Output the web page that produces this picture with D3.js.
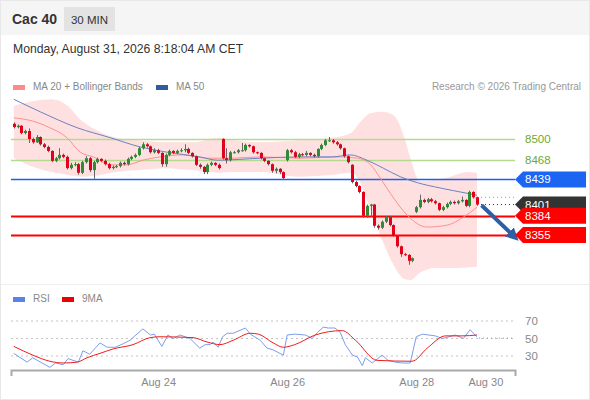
<!DOCTYPE html>
<html>
<head>
<meta charset="utf-8">
<script src="https://cdn.jsdelivr.net/npm/d3@7"></script>
<style>
  body { margin: 0; background: #fff; }
  svg { font-family: "Liberation Sans", Arial, sans-serif; display: block; }
</style>
</head>
<body>
<div id="chart"></div>
<script>
// 30 min candles, Cac 40
const open = [8523,8518,8520,8509,8512,8500,8495,8503,8492,8488,
  8482,8467,8471,8476,8473,8456,8461,8462,8449,8465,
  8471,8453,8465,8470,8467,8462,8456,8458,8459,8464,
  8462,8470,8473,8476,8486,8492,8489,8480,8483,8479,
  8462,8476,8482,8479,8482,8483,8485,8479,8474,8461,
  8458,8450,8461,8464,8461,8500,8471,8468,8480,8480,
  8483,8483,8491,8489,8480,8479,8471,8467,8462,8452,
  8455,8450,8468,8483,8480,8473,8477,8476,8479,8476,
  8474,8485,8491,8498,8498,8495,8492,8486,8474,8461,
  8435,8429,8420,8384,8399,8401,8369,8366,8375,8382,
  8370,8354,8338,8326,8325,8316,8390,8397,8408,8405,
  8409,8406,8403,8393,8397,8402,8405,8403,8406,8408,
  8399,8420,8412];
const close = [8518,8520,8509,8512,8500,8495,8503,8492,8488,8482,
  8467,8471,8476,8473,8456,8461,8462,8449,8465,8471,
  8453,8465,8470,8467,8462,8456,8458,8459,8464,8462,
  8470,8473,8476,8486,8492,8489,8480,8483,8479,8462,
  8476,8482,8479,8482,8483,8485,8479,8474,8461,8458,
  8450,8461,8464,8461,8456,8471,8468,8480,8480,8483,
  8483,8491,8489,8480,8479,8471,8467,8462,8452,8455,
  8450,8441,8483,8480,8473,8477,8476,8479,8476,8474,
  8485,8491,8498,8498,8495,8492,8486,8474,8465,8435,
  8429,8420,8384,8399,8401,8369,8366,8375,8382,8370,
  8354,8338,8326,8325,8316,8320,8397,8408,8405,8409,
  8406,8403,8393,8397,8402,8405,8403,8406,8408,8399,
  8420,8412,8401];
const high = [8525,8522,8521,8514,8516,8502,8506,8504,8494,8490,
  8483,8473,8486,8478,8475,8464,8465,8464,8467,8474,
  8473,8467,8472,8471,8469,8464,8460,8461,8466,8466,
  8472,8475,8478,8488,8495,8494,8490,8486,8485,8480,
  8478,8484,8483,8484,8486,8492,8487,8480,8475,8463,
  8459,8463,8466,8465,8463,8501,8486,8482,8482,8485,
  8494,8493,8492,8490,8481,8480,8472,8468,8463,8457,
  8456,8451,8485,8485,8482,8479,8479,8482,8480,8478,
  8486,8493,8500,8503,8500,8497,8493,8487,8475,8462,
  8437,8430,8421,8401,8402,8402,8371,8377,8384,8384,
  8371,8355,8339,8328,8326,8321,8399,8416,8410,8411,
  8411,8408,8404,8399,8404,8407,8407,8408,8413,8409,
  8422,8421,8413];
const low = [8516,8516,8507,8507,8494,8493,8494,8490,8486,8480,
  8465,8465,8469,8471,8454,8454,8459,8446,8447,8463,
  8450,8440,8463,8465,8460,8454,8454,8456,8457,8460,
  8460,8468,8471,8474,8484,8487,8478,8478,8477,8458,
  8458,8474,8477,8477,8480,8480,8477,8472,8459,8455,
  8447,8447,8459,8459,8454,8469,8463,8466,8478,8478,
  8481,8481,8487,8478,8477,8469,8465,8460,8449,8448,
  8447,8439,8466,8478,8471,8471,8474,8474,8474,8472,
  8472,8483,8489,8496,8493,8490,8484,8472,8463,8433,
  8427,8418,8381,8381,8382,8366,8363,8364,8373,8368,
  8352,8336,8322,8323,8310,8314,8388,8395,8403,8403,
  8404,8401,8391,8391,8395,8400,8401,8401,8404,8397,
  8397,8410,8399];

// indicators (candle index -> value)
const ma20Idx = [0,5,9.5,14,17.5,20.9,25.4,29.8,34,38.5,44.6,50.9,57.8,64.9,75.4,86,90.5,94,96.5,100,103.6,108.9,114.2,118.4,122];
const ma20 = [8532,8527,8517,8502,8480,8473,8461,8461,8468,8473,8476,8471,8471,8473,8471,8473,8471,8461,8441,8411,8385,8367,8370,8382,8397];
const ma50Idx = [0,7,16.7,25.4,33.3,40.4,49,53.6,65,75.4,84,88.6,93,97.3,101.8,106.3,112.3,119.4,122];
const ma50 = [8560,8541,8517,8502,8488,8480,8473,8468,8471,8473,8473,8476,8468,8456,8443,8434,8426,8418,8415];
const bandIdx = [0,5,10,14,18,23,27,33,40,47,54,58,65,75,84,89,91,94,97,100,103,104.5,107,111,115,119.5,122];
const bandUpper = [8550,8557,8560,8551,8527,8510,8502,8498,8495,8495,8502,8498,8495,8498,8502,8510,8524,8539,8541,8536,8500,8470,8436,8438,8443,8450,8449];
const bandLower = [8471,8458,8450,8446,8443,8446,8450,8453,8456,8453,8449,8450,8450,8443,8446,8449,8437,8392,8348,8310,8288,8287,8298,8305,8305,8306,8307];

// levels
const levels = [8500, 8468, 8439, 8384, 8355];
const levelKind = ["res", "res", "pivot", "sup", "sup"];
const lastPrice = 8401;
const ma50Last = 8412;
const forecastIdx = [123.2, 131];
const forecastPrice = [8400, 8357];

// RSI panel
const rsiIdx = [0,3.5,5,9.5,11,13,14.3,17,18.2,20,22.7,24.6,26.7,28.8,30.6,34,36,37,39,40.6,42,43.8,46.4,49,50.4,51.7,52.5,53.8,55,56.2,57.8,61,62.3,64.9,66.7,68.3,71,72,74,76.8,78.6,80,81.5,82.8,84.6,86,87.3,89.2,90.5,91.8,92.6,94.4,97,98.6,100.5,102.3,104.4,106,107.6,111,112.9,116.3,118.4,120.2,121.5,122];
const rsi = [33,23,28,17,22,20,27,23,36,32,45,40,40,44,48,61,54,55,41,54,50,54,50,39,43,43,46,40,52,56,56,62,55,48,39,37,31,54,55,54,50,57,63,62,62,57,43,31,29,19,28,22,31,25,23,22,22,52,55,53,50,54,50,60,54,52];
const ma9Idx = [0,5,9.5,13,16.7,19.3,22.7,26.1,31.4,35.9,38.5,47.2,50.9,54.3,57.8,62.3,64.4,68.3,71,74,79.4,86.5,90,95.7,104.9,108.9,113.7,118.1,122];
const ma9 = [41,31,24,22,23,28,33,38,43,51,52,51,46,43,48,56,55,45,40,43,54,59,48,25,24,39,53,53,54];
const rsiLevels = [70, 50, 30];
const rsiLast = 50.5;

const tickIdx = [38, 72, 106, 124.2];
const tickLabels = ["Aug 24", "Aug 26", "Aug 28", "Aug 30"];

const W = 590, H = 400;
const left = 11, right = 515;

const svg = d3.select("#chart").append("svg").attr("width", W).attr("height", H);

const x = d3.scaleLinear().domain([0, 122]).range([13.8, 477]);
const y = d3.scaleLinear().domain([8355, 8500]).range([235, 139]);
const ry = d3.scaleLinear().domain([30, 70]).range([356, 321]);

// frame + header
svg.append("rect").attr("x", 0.5).attr("y", 0.5).attr("width", W - 1).attr("height", H - 1)
  .attr("fill", "#fff").attr("stroke", "#e8e8e8");
svg.append("rect").attr("x", 1).attr("y", 1).attr("width", W - 2).attr("height", 34).attr("fill", "#f5f5f5");
svg.append("rect").attr("x", 64).attr("y", 7).attr("width", 51).attr("height", 24).attr("fill", "#e3e3e3");
svg.append("text").attr("x", 12).attr("y", 24).attr("font-size", 14).attr("font-weight", "bold")
  .attr("fill", "#333").text("Cac 40");
svg.append("text").attr("x", 89.5).attr("y", 23.5).attr("text-anchor", "middle").attr("font-size", 11.5)
  .attr("fill", "#333").text("30 MIN");
svg.append("text").attr("x", 13).attr("y", 52.5).attr("font-size", 12.2).attr("fill", "#333")
  .text("Monday, August 31, 2026 8:18:04 AM CET");

// legends
function legend(lx, ly, color, label) {
  svg.append("rect").attr("x", lx).attr("y", ly - 5).attr("width", 12).attr("height", 5).attr("fill", color);
  svg.append("text").attr("x", lx + 20).attr("y", ly).attr("font-size", 10).attr("fill", "#888").text(label);
}
legend(13, 90, "#ff8a8a", "MA 20 + Bollinger Bands");
legend(156, 90, "#2f5c9e", "MA 50");
svg.append("text").attr("x", 581).attr("y", 90).attr("text-anchor", "end").attr("font-size", 10)
  .attr("fill", "#999").text("Research \u00a9 2026 Trading Central");
legend(13, 302, "#5b82e6", "RSI");
legend(62, 302, "#ee0000", "9MA");

svg.append("line").attr("x1", 1).attr("x2", W - 1).attr("y1", 284.5).attr("y2", 284.5).attr("stroke", "#eeeeee");

// bollinger band
const band = d3.area()
  .x((d, i) => x(bandIdx[i]))
  .y0((d, i) => y(bandLower[i]))
  .y1(d => y(d))
  .curve(d3.curveMonotoneX);
svg.append("path").datum(bandUpper).attr("d", band).attr("fill", "#ffe0e0");

// level lines
const levelColor = { res: "#b5d98f", pivot: "#1c5fe8", sup: "#ff0000" };
const levelWidth = { res: 1.5, pivot: 1.5, sup: 2 };
svg.selectAll(".lvl").data(levels).enter().append("line")
  .attr("x1", left).attr("x2", right)
  .attr("y1", d => Math.round(y(d)) + 0.5).attr("y2", d => Math.round(y(d)) + 0.5)
  .attr("stroke", (d, i) => levelColor[levelKind[i]])
  .attr("stroke-width", (d, i) => levelWidth[levelKind[i]]);

// moving averages
function idxLine(idx) {
  return d3.line().x((d, i) => x(idx[i])).y(d => y(d)).curve(d3.curveMonotoneX);
}
svg.append("path").datum(ma20).attr("d", idxLine(ma20Idx)).attr("fill", "none")
  .attr("stroke", "#ff8f8f").attr("stroke-width", 1);
svg.append("path").datum(ma50).attr("d", idxLine(ma50Idx)).attr("fill", "none")
  .attr("stroke", "#6983c2").attr("stroke-width", 1);

// dotted projections
svg.append("line").attr("x1", x(122) + 4).attr("x2", right)
  .attr("y1", y(ma50Last)).attr("y2", y(ma50Last))
  .attr("stroke", "#7d98d2").attr("stroke-dasharray", "1,3");
svg.append("line").attr("x1", x(122) + 4).attr("x2", right)
  .attr("y1", y(lastPrice)).attr("y2", y(lastPrice))
  .attr("stroke", "#333").attr("stroke-dasharray", "1,3");

// candles
const candles = svg.append("g").selectAll("g").data(close).enter().append("g");
candles.append("line")
  .attr("x1", (d, i) => Math.round(x(i)) + 0.5).attr("x2", (d, i) => Math.round(x(i)) + 0.5)
  .attr("y1", (d, i) => y(high[i])).attr("y2", (d, i) => y(low[i]))
  .attr("stroke", "#666").attr("stroke-width", 1);
candles.append("rect")
  .attr("x", (d, i) => Math.round(x(i)) - 1)
  .attr("width", 3)
  .attr("y", (d, i) => y(Math.max(open[i], d)))
  .attr("height", (d, i) => Math.max(1, Math.abs(y(open[i]) - y(d))))
  .attr("fill", (d, i) => d >= open[i] ? "#2e8b36" : "#e3001b");

// forecast arrow
svg.append("defs").append("marker").attr("id", "head")
  .attr("viewBox", "0 0 10 10").attr("refX", 2).attr("refY", 5)
  .attr("markerWidth", 3.2).attr("markerHeight", 3.2).attr("orient", "auto")
  .append("path").attr("d", "M0,0L10,5L0,10z").attr("fill", "#2c5fa5");
svg.append("line")
  .attr("x1", x(forecastIdx[0])).attr("y1", y(forecastPrice[0]))
  .attr("x2", x(forecastIdx[1])).attr("y2", y(forecastPrice[1]))
  .attr("stroke", "#2c5fa5").attr("stroke-width", 4).attr("marker-end", "url(#head)");

// price tags
const tagColor = { pivot: "#1c64f2", sup: "#ff0000", last: "#333333" };
function tag(price, kind) {
  const ty = y(price);
  svg.append("path")
    .attr("d", `M${right},${ty}L${right + 8},${ty - 8}H586V${ty + 8}H${right + 8}Z`)
    .attr("fill", tagColor[kind]);
  svg.append("text").attr("x", 525).attr("y", ty + 4).attr("font-size", 11.5).attr("fill", "#fff").text(price);
}
levels.forEach((v, i) => {
  if (levelKind[i] === "res") {
    svg.append("text").attr("x", 525).attr("y", y(v) + 4).attr("font-size", 11.5)
      .attr("fill", "#6aaa33").text(v);
  }
});
tag(levels[2], "pivot");
tag(lastPrice, "last");
tag(levels[3], "sup");
tag(levels[4], "sup");

// RSI panel
svg.selectAll(".rg").data(rsiLevels).enter().append("line")
  .attr("x1", left).attr("x2", right)
  .attr("y1", d => ry(d)).attr("y2", d => ry(d))
  .attr("stroke", "#c4c4c4").attr("stroke-dasharray", "2,3");
svg.selectAll(".rl").data(rsiLevels).enter().append("text")
  .attr("x", 525).attr("y", d => ry(d) + 4).attr("font-size", 11.5).attr("fill", "#888").text(d => d);

svg.append("path").datum(rsi)
  .attr("d", d3.line().x((d, i) => x(rsiIdx[i])).y(d => ry(d)))
  .attr("fill", "none").attr("stroke", "#7d9deb").attr("stroke-width", 1);
svg.append("path").datum(ma9)
  .attr("d", d3.line().x((d, i) => x(ma9Idx[i])).y(d => ry(d)).curve(d3.curveMonotoneX))
  .attr("fill", "none").attr("stroke", "#f01c1c").attr("stroke-width", 1);
svg.append("line").attr("x1", x(122) + 2).attr("x2", right)
  .attr("y1", ry(rsiLast)).attr("y2", ry(rsiLast))
  .attr("stroke", "#7d9deb").attr("stroke-dasharray", "1,3");

// x axis
const xAxisScale = d3.scaleLinear().domain([x.invert(left), x.invert(right)]).range([left, right]);
const axis = svg.append("g").attr("transform", "translate(0,370)")
  .call(d3.axisBottom(xAxisScale).tickValues(tickIdx)
    .tickFormat((d, i) => tickLabels[i]).tickSizeInner(0).tickSizeOuter(6).tickPadding(8));
axis.select(".domain").attr("stroke", "#aaa").attr("stroke-width", 2);
axis.selectAll("text").attr("font-size", 11).attr("fill", "#888")
  .attr("font-family", "Liberation Sans, Arial, sans-serif");
</script>
</body>
</html>
